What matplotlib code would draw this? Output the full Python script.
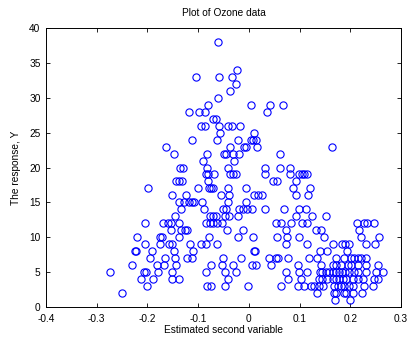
import matplotlib
matplotlib.use("Agg")
import matplotlib.pyplot as plt
import numpy as np

plt.rcParams['font.family'] = ['Liberation Sans', 'DejaVu Sans']
plt.rcParams['axes.unicode_minus'] = False

title = "Plot of Ozone data"
xlabel = "Estimated second variable"
ylabel = "The response, Y"
xticks = [-0.4, -0.3, -0.2, -0.1, 0, 0.1, 0.2, 0.3]
xticklabels = ["-0.4", "-0.3", "-0.2", "-0.1", "0", "0.1", "0.2", "0.3"]
yticks = [0, 5, 10, 15, 20, 25, 30, 35, 40]

x_vals = []
y_vals = []

def add(y, xs):
    for v in xs:
        x_vals.append(v)
        y_vals.append(y)

add(38, [-0.060])
add(34, [-0.024])
add(33, [-0.104, -0.059, -0.033])
add(32, [-0.026])
add(31, [-0.038])
add(30, [-0.060])
add(29, [-0.080, 0.005, 0.041, 0.067])
add(28, [-0.118, -0.098, -0.086, 0.036])
add(27, [-0.071, -0.064])
add(26, [-0.094, -0.086, -0.058, -0.042, -0.033, -0.018])
add(25, [-0.057, 0.011])
add(24, [-0.113, -0.063, -0.022, 0.005, 0.009, 0.015])
add(23, [-0.164, -0.038, -0.010, -0.005, 0.017, 0.164])
add(22, [-0.147, -0.082, -0.050, -0.045, -0.032, -0.020, 0.062])
add(21, [-0.090, -0.030])
add(20, [-0.135, -0.129, -0.082, -0.042, 0.032, 0.061, 0.081])
add(19, [-0.085, -0.080, -0.069, -0.038, -0.032, -0.026, 0.031, 0.082, 0.099, 0.104, 0.108, 0.114])
add(18, [-0.144, -0.137, -0.132, -0.080, 0.047, 0.056, 0.092])
add(17, [-0.199, -0.100, -0.079, -0.074, -0.070, -0.042, -0.005, 0.088, 0.121])
add(16, [-0.152, -0.124, -0.055, -0.040, 0.011, 0.018, 0.025, 0.092, 0.117])
add(15, [-0.138, -0.128, -0.118, -0.113, -0.109, -0.092, -0.041, -0.005])
add(14, [-0.133, -0.089, -0.051, -0.046, -0.020, -0.012, -0.004, 0.007, 0.032, 0.069, 0.098, 0.112])
add(13, [-0.146, -0.076, -0.071, -0.065, -0.048, -0.040, -0.022, 0.092, 0.124, 0.152])
add(12, [-0.204, -0.169, -0.159, -0.154, -0.138, -0.084, -0.076, -0.070, -0.063, -0.053,
         0.054, 0.063, 0.083, 0.104, 0.114, 0.213, 0.228, 0.232, 0.246])
add(11, [-0.154, -0.133, -0.125, -0.122, -0.044, -0.012, 0.074, 0.132, 0.142, 0.218])
add(10, [-0.220, -0.175, -0.172, -0.137, -0.078, -0.022, 0.008, 0.056, 0.076, 0.098, 0.149, 0.221, 0.257])
add(9, [-0.204, -0.176, -0.158, -0.152, -0.116, -0.094, -0.085, -0.062, 0.073, 0.114,
        0.165, 0.184, 0.190, 0.197, 0.231, 0.248])
add(8, [-0.225, -0.222, -0.191, -0.147, -0.111, 0.011, 0.013, 0.140, 0.155, 0.193])
add(7, [-0.195, -0.166, -0.145, -0.121, -0.112, -0.051, -0.015, 0.040, 0.053, 0.057, 0.077,
        0.119, 0.134, 0.172, 0.188, 0.201, 0.208, 0.215, 0.221, 0.230])
add(6, [-0.230, -0.181, -0.167, -0.144, -0.074, -0.053, -0.032, 0.007, 0.015, 0.044, 0.096,
        0.142, 0.165, 0.172, 0.182, 0.195, 0.201, 0.215, 0.231, 0.254])
add(5, [-0.274, -0.207, -0.202, -0.179, -0.151, -0.084, -0.047, -0.025, 0.073, 0.099, 0.114,
        0.140, 0.145, 0.153, 0.158, 0.165, 0.172, 0.178, 0.184, 0.190, 0.198, 0.208, 0.215,
        0.231, 0.251, 0.264])
add(4, [-0.212, -0.190, -0.152, -0.137, -0.042, 0.077, 0.102, 0.139, 0.145, 0.155, 0.165,
        0.172, 0.178, 0.185, 0.191, 0.205, 0.215, 0.226, 0.246, 0.254])
add(3, [-0.201, -0.082, -0.074, -0.048, -0.001, 0.063, 0.096, 0.109, 0.122, 0.129, 0.139,
        0.147, 0.168, 0.175, 0.181, 0.188, 0.198, 0.205, 0.228, 0.244])
add(2, [-0.250, 0.135, 0.168, 0.172, 0.188, 0.191, 0.205, 0.223])
add(1, [0.170, 0.199])

fig = plt.figure(figsize=(4.13, 3.40), dpi=100)
ax = fig.add_axes([46/413, 1 - 307/340, (401-46)/413, (307-28)/340])
ax.plot(x_vals, y_vals, linestyle='none', marker='o', markersize=5.2,
        markerfacecolor='none', markeredgecolor=(0, 0, 1), markeredgewidth=0.8)
ax.set_xlim(-0.4, 0.3)
ax.set_ylim(0, 40)
ax.set_xticks(xticks)
ax.set_xticklabels(xticklabels)
ax.set_yticks(yticks)
ax.tick_params(direction='in', top=True, right=True, length=3, width=0.6,
               labelsize=7.3)
ax.tick_params(axis='x', pad=5)
ax.tick_params(axis='y', pad=4)
for s in ax.spines.values():
    s.set_linewidth(0.7)
ax.set_title(title, fontsize=7.3, pad=9)
ax.set_xlabel(xlabel, fontsize=7.3, labelpad=1)
ax.set_ylabel(ylabel, fontsize=7.3, labelpad=6)
fig.savefig("out.png", dpi=100)
